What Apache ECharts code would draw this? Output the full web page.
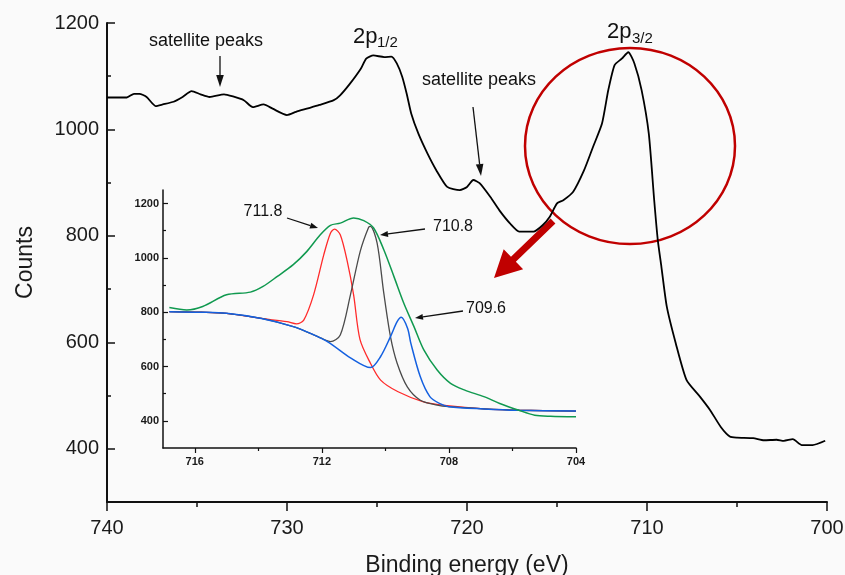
<!DOCTYPE html>
<html>
<head>
<meta charset="utf-8">
<script src="https://cdn.jsdelivr.net/npm/echarts@6/dist/echarts.min.js"></script>
<style>
  html, body { margin: 0; padding: 0; background: #fafafa; }
  #chart { width: 845px; height: 575px; }
</style>
</head>
<body>
<div id="chart"></div>
<script>
// main spectrum (binding energy / counts)
var mainEnergy = [740, 738.9, 738.5, 738.2, 737.8, 737.3, 736.9, 736.3, 735.8, 735.3, 734.8, 734.3, 733.5, 733.0, 732.4, 731.9, 731.3, 730.8, 730.0, 729.5, 728.9, 728.2, 727.4, 727.05, 726.5, 725.9, 725.6, 725.2, 724.6, 724.2, 723.9, 723.6, 723.35, 723.1, 722.7, 722.2, 721.7, 721.1, 720.4, 720.0, 719.65, 719.3, 718.7, 718.2, 717.6, 717.1, 716.3, 715.8, 715.4, 715.0, 714.65, 714.1, 713.5, 713.0, 712.5, 712.15, 711.8, 711.4, 711.04, 710.7, 710.3, 709.9, 709.6, 709.4, 709.2, 708.9, 708.4, 707.8, 707.06, 706.5, 705.9, 705.4, 705.0, 704.1, 703.5, 702.8, 702.4, 701.9, 701.4, 700.8, 700.1];
var mainCounts = [1060, 1060, 1067, 1067, 1061, 1044, 1047, 1052, 1061, 1072, 1066, 1061, 1066, 1062, 1055, 1042, 1047, 1039, 1027, 1033, 1039, 1046, 1055, 1064, 1086, 1114, 1133, 1139, 1136, 1137, 1124, 1099, 1067, 1030, 992, 955, 923, 892, 886, 892, 905, 899, 873, 848, 823, 808, 808, 820, 836, 861, 867, 883, 923, 967, 1011, 1074, 1121, 1133, 1145, 1124, 1074, 992, 867, 792, 742, 667, 598, 529, 498, 473, 441, 423, 421, 420, 416, 417, 415, 418, 407, 407, 415];

// inset: fitted 2p3/2 components
var envelopeEnergy = [716.8, 716.25, 715.75, 715.0, 714.25, 713.85, 713.4, 712.9, 712.47, 712.05, 711.73, 711.42, 711.0, 710.68, 710.37, 710.05, 709.73, 709.42, 709.1, 708.79, 708.37, 707.95, 707.5, 706.9, 706.4, 705.8, 705.3, 704.8, 704.0];
var envelopeCounts = [817, 808, 821, 864, 874, 895, 932, 975, 1024, 1085, 1120, 1128, 1147, 1137, 1110, 1030, 931, 833, 747, 661, 587, 538, 513, 489, 464, 439, 421, 417, 415];

var peak1Energy = [716.8, 715.8, 715.0, 713.9, 713.1, 712.8, 712.57, 712.26, 711.94, 711.73, 711.6, 711.42, 711.2, 711.0, 710.8, 710.47, 710.15, 709.6, 708.8, 708.05, 706.9, 705.8, 704.0];
var peak1Counts = [802, 800, 796, 777, 765, 757, 771, 864, 1011, 1091, 1106, 1085, 987, 864, 700, 612, 550, 507, 470, 456, 444, 439, 436];

var peak2Energy = [716.8, 715.8, 715.0, 713.9, 712.9, 712.36, 711.9, 711.73, 711.42, 711.1, 710.79, 710.53, 710.47, 710.26, 710.05, 709.84, 709.63, 709.31, 708.9, 708.37, 708.0, 706.9, 705.8, 704.0];
var peak2Counts = [802, 800, 796, 777, 747, 722, 698, 692, 716, 864, 1025, 1112, 1116, 1054, 870, 710, 612, 525, 476, 458, 452, 444, 439, 436];

var peak3Energy = [716.8, 715.8, 715.0, 713.9, 712.9, 712.36, 711.8, 711.1, 710.47, 710.15, 709.84, 709.63, 709.5, 709.3, 709.2, 708.9, 708.6, 708.3, 708.0, 706.9, 705.8, 704.0];
var peak3Counts = [802, 800, 796, 777, 747, 722, 690, 632, 596, 637, 710, 765, 781, 740, 686, 562, 489, 464, 452, 444, 439, 436];

var mainXTicks = [740, 730, 720, 710, 700];
var mainXMinor = [735, 725, 715, 705];
var mainYTicks = [400, 600, 800, 1000, 1200];
var mainYMinor = [500, 700, 900, 1100];
var insetXTicks = [716, 712, 708, 704];
var insetXMinor = [714, 710, 706];
var insetYTicks = [400, 600, 800, 1000, 1200];
var insetYMinor = [500, 700, 900, 1100];

function pairs(xs, ys) {
  return xs.map(function (x, i) { return [x, ys[i]]; });
}

var FONT = "'Liberation Sans', Arial, sans-serif";
var INK = '#111';
var plain = function (v) { return String(v); };

// thin arrow: line + small head
function arrow(x1, y1, x2, y2, len, half) {
  var dx = x2 - x1, dy = y2 - y1;
  var d = Math.sqrt(dx * dx + dy * dy);
  var ux = dx / d, uy = dy / d;
  var bx = x2 - ux * len, by = y2 - uy * len;
  return [
    { type: 'line', shape: { x1: x1, y1: y1, x2: bx, y2: by }, style: { stroke: INK, lineWidth: 1.3 } },
    { type: 'polygon', shape: { points: [[x2, y2], [bx - uy * half, by + ux * half], [bx + uy * half, by - ux * half]] }, style: { fill: INK } }
  ];
}

// thick red arrow
function fatArrow(x1, y1, x2, y2, shaftHalf, headHalf, headLen, color) {
  var dx = x2 - x1, dy = y2 - y1;
  var d = Math.sqrt(dx * dx + dy * dy);
  var ux = dx / d, uy = dy / d;
  var nx = -uy, ny = ux;
  var bx = x2 - ux * headLen, by = y2 - uy * headLen;
  return {
    type: 'polygon',
    shape: {
      points: [
        [x1 + nx * shaftHalf, y1 + ny * shaftHalf],
        [bx + nx * shaftHalf, by + ny * shaftHalf],
        [bx + nx * headHalf, by + ny * headHalf],
        [x2, y2],
        [bx - nx * headHalf, by - ny * headHalf],
        [bx - nx * shaftHalf, by - ny * shaftHalf],
        [x1 - nx * shaftHalf, y1 - ny * shaftHalf]
      ]
    },
    style: { fill: color }
  };
}

function txt(x, y, s, size, align) {
  return {
    type: 'text', x: x, y: y,
    style: { text: s, fontSize: size, fontFamily: FONT, fill: INK, align: align || 'center', verticalAlign: 'middle' }
  };
}

var graphics = [
  txt(206, 41, 'satellite peaks', 18),
  txt(479, 80, 'satellite peaks', 18),
  txt(353, 37, '2p', 22, 'left'),
  txt(377, 43, '1/2', 15, 'left'),
  txt(607, 32, '2p', 22, 'left'),
  txt(632, 39, '3/2', 15, 'left'),
  txt(263, 212, '711.8', 16),
  txt(453, 227, '710.8', 16),
  txt(486, 309, '709.6', 16),
  {
    type: 'ellipse', shape: { cx: 630, cy: 146, rx: 105, ry: 98 },
    style: { stroke: '#c00000', lineWidth: 2.5, fill: null }
  },
  fatArrow(553, 221, 494, 278, 3.5, 14, 27, '#c00000')
].concat(
  arrow(220, 56, 220, 87, 12, 3.8),
  arrow(473, 107, 481, 176, 12, 3.8),
  arrow(287, 218, 318, 228, 8, 3),
  arrow(425, 229, 380, 235, 8, 3),
  arrow(463, 311, 415, 318, 8, 3)
);

var chart = echarts.init(document.getElementById('chart'));

var option = {
  backgroundColor: '#fafafa',
  animation: false,
  grid: [
    { left: 107, top: 23, width: 720, height: 479, outerBoundsMode: 'none', containLabel: false },
    { left: 163, top: 190, width: 413, height: 258, outerBoundsMode: 'none', containLabel: false }
  ],
  xAxis: [
    {
      gridIndex: 0, type: 'value', min: 700, max: 740, inverse: true, position: 'bottom',
      axisLine: { onZero: false, lineStyle: { color: INK, width: 2 } },
      axisTick: { customValues: mainXTicks, length: 9, lineStyle: { color: INK, width: 1.5 } },
      axisLabel: { customValues: mainXTicks, formatter: plain, fontSize: 20, margin: 16, color: '#1a1a1a', fontFamily: FONT },
      splitLine: { show: false },
      name: 'Binding energy (eV)', nameLocation: 'middle', nameGap: 52,
      nameTextStyle: { fontSize: 23, color: '#1a1a1a', fontFamily: FONT }
    },
    {
      gridIndex: 0, type: 'value', min: 700, max: 740, inverse: true, position: 'bottom',
      axisLine: { show: false, onZero: false },
      axisTick: { customValues: mainXMinor, length: 5, lineStyle: { color: INK, width: 1.5 } },
      axisLabel: { show: false },
      splitLine: { show: false }
    },
    {
      gridIndex: 1, type: 'value', min: 704, max: 717, inverse: true, position: 'bottom',
      axisLine: { onZero: false, lineStyle: { color: INK, width: 1.5 } },
      axisTick: { customValues: insetXTicks, length: 5, lineStyle: { color: INK, width: 1.2 } },
      axisLabel: { customValues: insetXTicks, formatter: plain, fontSize: 11, fontWeight: 'bold', margin: 8, color: '#1a1a1a', fontFamily: FONT },
      splitLine: { show: false }
    },
    {
      gridIndex: 1, type: 'value', min: 704, max: 717, inverse: true, position: 'bottom',
      axisLine: { show: false, onZero: false },
      axisTick: { customValues: insetXMinor, length: 3, lineStyle: { color: INK, width: 1.2 } },
      axisLabel: { show: false },
      splitLine: { show: false }
    }
  ],
  yAxis: [
    {
      gridIndex: 0, type: 'value', min: 300, max: 1200, position: 'left',
      axisLine: { show: true, onZero: false, lineStyle: { color: INK, width: 2 } },
      axisTick: { show: true, inside: true, customValues: mainYTicks, length: 8, lineStyle: { color: INK, width: 1.5 } },
      axisLabel: { customValues: mainYTicks, formatter: plain, fontSize: 20, margin: 8, color: '#1a1a1a', fontFamily: FONT },
      splitLine: { show: false },
      name: 'Counts', nameLocation: 'middle', nameGap: 70,
      nameTextStyle: { fontSize: 23, color: '#1a1a1a', fontFamily: FONT }
    },
    {
      gridIndex: 0, type: 'value', min: 300, max: 1200, position: 'left',
      axisLine: { show: false, onZero: false },
      axisTick: { show: true, inside: true, customValues: mainYMinor, length: 4, lineStyle: { color: INK, width: 1.5 } },
      axisLabel: { show: false },
      splitLine: { show: false }
    },
    {
      gridIndex: 1, type: 'value', min: 300, max: 1250, position: 'left',
      axisLine: { show: true, onZero: false, lineStyle: { color: INK, width: 1.5 } },
      axisTick: { show: true, inside: true, customValues: insetYTicks, length: 5, lineStyle: { color: INK, width: 1.2 } },
      axisLabel: { customValues: insetYTicks, formatter: plain, fontSize: 11, fontWeight: 'bold', margin: 4, color: '#1a1a1a', fontFamily: FONT },
      splitLine: { show: false }
    },
    {
      gridIndex: 1, type: 'value', min: 300, max: 1250, position: 'left',
      axisLine: { show: false, onZero: false },
      axisTick: { show: true, inside: true, customValues: insetYMinor, length: 3, lineStyle: { color: INK, width: 1.2 } },
      axisLabel: { show: false },
      splitLine: { show: false }
    }
  ],
  series: [
    {
      name: 'spectrum', type: 'line', xAxisIndex: 0, yAxisIndex: 0, smooth: 0.2,
      data: pairs(mainEnergy, mainCounts), showSymbol: false,
      lineStyle: { color: '#000', width: 1.8 }
    },
    {
      name: '711.8', type: 'line', xAxisIndex: 2, yAxisIndex: 2, smooth: 0.3,
      data: pairs(peak1Energy, peak1Counts), showSymbol: false,
      lineStyle: { color: '#ff2a2a', width: 1.3 }
    },
    {
      name: '710.8', type: 'line', xAxisIndex: 2, yAxisIndex: 2, smooth: 0.3,
      data: pairs(peak2Energy, peak2Counts), showSymbol: false,
      lineStyle: { color: '#4a4a4a', width: 1.3 }
    },
    {
      name: '709.6', type: 'line', xAxisIndex: 2, yAxisIndex: 2, smooth: 0.3,
      data: pairs(peak3Energy, peak3Counts), showSymbol: false,
      lineStyle: { color: '#1460e0', width: 1.5 }
    },
    {
      name: 'envelope', type: 'line', xAxisIndex: 2, yAxisIndex: 2, smooth: 0.3,
      data: pairs(envelopeEnergy, envelopeCounts), showSymbol: false,
      lineStyle: { color: '#10994f', width: 1.5 }
    }
  ],
  graphic: graphics
};

chart.setOption(option);
</script>
</body>
</html>
